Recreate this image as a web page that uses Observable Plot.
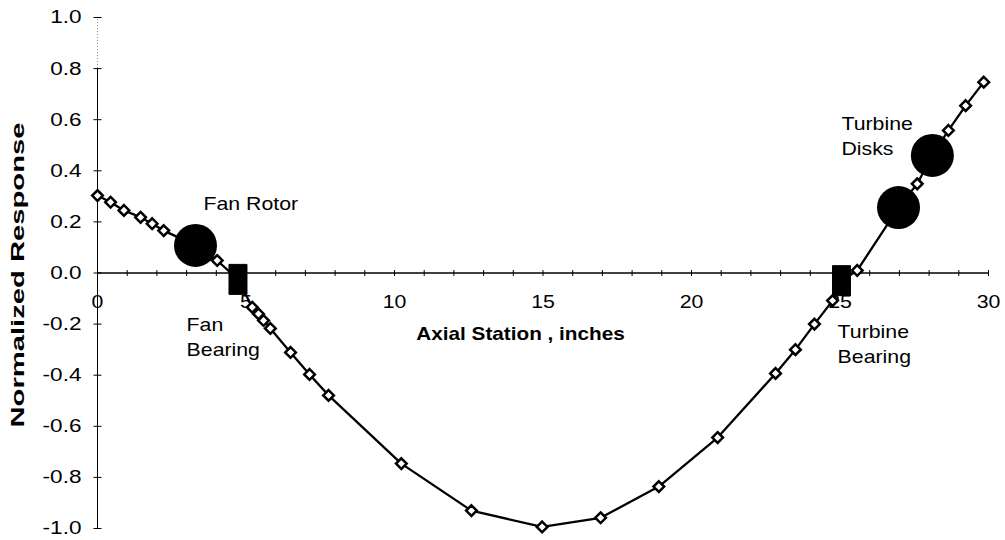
<!DOCTYPE html>
<html>
<head>
<meta charset="utf-8">
<script src="https://cdn.jsdelivr.net/npm/d3@7"></script>
<script src="https://cdn.jsdelivr.net/npm/@observablehq/plot@0.6"></script>
<style>
  html, body { margin: 0; padding: 0; background: #fff; }
  svg { display: block; }
</style>
</head>
<body>
<div id="chart"></div>
<script>
// Mode shape: normalized response vs axial station (inches)
const stationX = [0, 0.44, 0.89, 1.45, 1.84, 2.23, 4.03, 5.21, 5.42, 5.59, 5.82, 6.50, 7.14, 7.78,
  10.23, 12.59, 14.97, 16.94, 18.90, 20.88, 22.83, 23.50, 24.14, 24.75, 25.58, 27.60, 28.65, 29.23, 29.84];
const responseY = [0.303, 0.277, 0.245, 0.218, 0.193, 0.166, 0.049, -0.134, -0.160, -0.186, -0.217, -0.311, -0.397, -0.479,
  -0.746, -0.930, -0.994, -0.958, -0.836, -0.644, -0.393, -0.300, -0.200, -0.108, 0.010, 0.349, 0.558, 0.655, 0.747];

// Components (drawn as large markers)
const diskX = [3.30, 26.97, 28.11];
const diskY = [0.108, 0.256, 0.460];
const bearingX = [4.73, 25.05];
const bearingY = [-0.025, -0.030];

// Axis ticks and labels
const xTickLabels = [0, 5, 10, 15, 20, 25, 30];
const xMinorTicks = d3.range(0, 31, 1);
const yTicks = [-1.0, -0.8, -0.6, -0.4, -0.2, 0.0, 0.2, 0.4, 0.6, 0.8, 1.0];

// Annotations (one row per text line)
const noteText = ["Fan Rotor", "Fan", "Bearing", "Turbine", "Disks", "Turbine", "Bearing"];
const noteX = [3.57, 3.0, 3.0, 25.05, 25.05, 24.92, 24.92];
const noteY = [0.272, -0.203, -0.30, 0.585, 0.487, -0.23, -0.33];

const stations = stationX.map((x, i) => ({x, y: responseY[i], kind: "station"}));
const disks = diskX.map((x, i) => ({x, y: diskY[i], kind: "disk"}));
const bearings = bearingX.map((x, i) => ({x, y: bearingY[i], kind: "bearing"}));
const path = [...stations, ...disks, ...bearings].sort((a, b) => a.x - b.x);
const notes = noteText.map((t, i) => ({text: t, x: noteX[i], y: noteY[i]}));

const vTick = {draw(ctx) { ctx.moveTo(0, -3); ctx.lineTo(0, 3); }};
const hTick = {draw(ctx) { ctx.moveTo(-4, 0); ctx.lineTo(4, 0); }};
const rectSym = {draw(ctx) { ctx.moveTo(-9, -15); ctx.lineTo(9, -15); ctx.lineTo(9, 15); ctx.lineTo(-9, 15); ctx.closePath(); }};

const chart = Plot.plot({
  width: 1005,
  height: 540,
  marginLeft: 97,
  marginRight: 17,
  marginTop: 17,
  marginBottom: 12,
  style: {fontFamily: "'Liberation Sans', Arial, sans-serif", fontSize: "18px", background: "#fff", color: "#000"},
  x: {domain: [0, 30], axis: null},
  y: {domain: [-1, 1], axis: null},
  marks: [
    Plot.ruleX([0], {y1: -1, y2: 0.8, stroke: "#000", strokeWidth: 1}),
    Plot.ruleX([0], {y1: 0.8, y2: 1.0, stroke: "#888", strokeWidth: 1, strokeDasharray: "1,2"}),
    Plot.ruleY([0], {x1: 0, x2: 30, stroke: "#000", strokeWidth: 1.4}),
    Plot.dot(yTicks, {x: 0, y: d => d, symbol: hTick, stroke: "#000", fill: "none", strokeWidth: 1}),
    Plot.dot(xMinorTicks, {x: d => d, y: 0, symbol: vTick, stroke: "#000", fill: "none", strokeWidth: 1}),
    // text marks (order matters for the glyph-widening step below)
    Plot.text(yTicks, {x: 0, y: d => d, text: d => d.toFixed(1), textAnchor: "end", dx: -16, fontSize: 18.5, fill: "#000"}),
    Plot.text(xTickLabels, {x: d => d, y: 0, text: d => String(d), dy: 29, fontSize: 18.5, fill: "#000"}),
    Plot.text(["Axial Station , inches"], {frameAnchor: "middle", dx: 520 - (97 + 988) / 2, dy: 334 - 272.5, fontWeight: "bold", fontSize: 18.5, fill: "#000"}),
    Plot.text(["Normalized Response"], {frameAnchor: "left", textAnchor: "middle", dx: -79, dy: 2, rotate: -90, fontWeight: "bold", fontSize: 18, fill: "#000"}),
    Plot.text(notes, {x: "x", y: "y", text: "text", textAnchor: "start", fontSize: 19, fill: "#000"}),
    Plot.line(path, {x: "x", y: "y", stroke: "#000", strokeWidth: 2.3}),
    Plot.dot(stations, {x: "x", y: "y", symbol: "diamond2", r: 4.8, fill: "#fff", stroke: "#000", strokeWidth: 2.5}),
    Plot.dot(disks, {x: "x", y: "y", r: 21.5, fill: "#000", stroke: "none"}),
    Plot.dot(bearings, {x: "x", y: "y", symbol: rectSym, fill: "#000", stroke: "#000", strokeWidth: 1, strokeLinejoin: "round"})
  ]
});
document.getElementById("chart").appendChild(chart);

// Widen glyphs to match the reference's wide lettering
const textGroups = chart.querySelectorAll('g[aria-label="text"]');
function stretch(group, factor, fixed) {
  if (!group) return;
  group.querySelectorAll("text").forEach(t => {
    const len = t.getComputedTextLength();
    t.setAttribute("textLength", fixed || len * factor);
    t.setAttribute("lengthAdjust", "spacingAndGlyphs");
  });
}
stretch(textGroups[0], 1.22);
stretch(textGroups[1], 1.15);
stretch(textGroups[2], 1.12);
stretch(textGroups[3], 1, 305);
stretch(textGroups[4], 1.12);
</script>
</body>
</html>
